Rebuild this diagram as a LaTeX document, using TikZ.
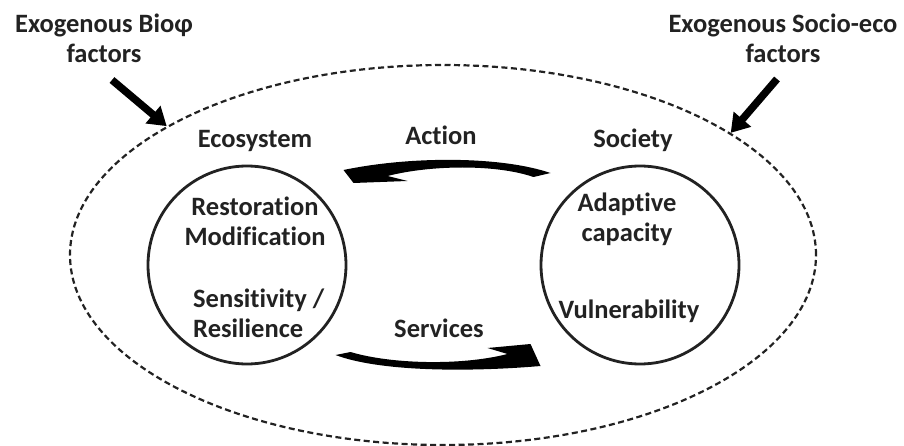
\documentclass[tikz,border=0pt]{standalone}
\usepackage{fontspec}
\setmainfont{Carlito}[Ligatures={NoCommon}]
\usepackage{tikz}
\usetikzlibrary{shapes.geometric, arrows.meta, calc}
\definecolor{ESInk}{RGB}{34, 34, 34}

\tikzset{
  lbl/.style={font=\bfseries\fontsize{26.5}{29.5}\selectfont, text=ESInk,
    align=center, inner sep=0pt},
  sphere/.style={circle, draw=ESInk, line width=2.8pt, minimum size=198pt,
    inner sep=0pt},
  region/.style={ellipse, draw=ESInk, line width=2.2pt,
    dash pattern=on 6pt off 3.5pt, minimum width=746pt, minimum height=380pt,
    inner sep=0pt},
  push/.style={draw=black, line width=7.5pt,
    -{Triangle[length=18pt, width=22pt]}}
}

\begin{document}
\begin{tikzpicture}[x=1pt, y=-1pt]
  \useasboundingbox (0,0) rectangle (904,446);

  % system boundary and the two spheres
  \node[region] (system) at (443,255) {};
  \node[sphere] (eco) at (247,265) {};
  \node[sphere] (soc) at (640,265) {};

  % titles over the spheres
  \node[lbl, anchor=base] (ecoTitle) at (255,148) {Ecosystem};
  \node[lbl, anchor=base] (socTitle) at (633,148) {Society};

  % what goes on inside each sphere
  \node[lbl, anchor=north] (ecoState) at (255,197) {Restoration\\Modification};
  \node[lbl, anchor=north west, align=left] (ecoResp) at (193,289)
    {Sensitivity /\\Resilience};
  \node[lbl, anchor=north] (socCap) at (627,193) {Adaptive\\capacity};
  \node[lbl, anchor=base] (socVuln) at (629,318) {Vulnerability};

  % flows between the spheres
  \node[lbl, anchor=base] (action) at (441,145) {Action};
  \node[lbl, anchor=base] (services) at (439,337) {Services};
  \begin{scope}[shift={($(eco)!0.5!(soc)$)}]
    \fill[black] (107,-92) .. controls (57,-109) and (-33,-109) .. (-100,-95)
      -- (-90,-82) -- (-36,-84) -- (-56,-89)
      .. controls (-13,-100) and (52,-101) .. (90,-88) -- cycle;
    \fill[black] (-108,90) .. controls (-63,107) and (27,107) .. (97,101)
      -- (87,79) -- (44,83) -- (64,89)
      .. controls (17,101) and (-53,99) .. (-93,87) -- cycle;
  \end{scope}

  % exogenous drivers
  \node[lbl, anchor=north] (bio) at (104,14) {Exogenous Bioφ\\factors};
  \node[lbl, anchor=north] (socio) at (783,14) {Exogenous Socio-eco\\factors};
  \coordinate (bioFrom) at (112,80);
  \coordinate (socioFrom) at (777,79);
  \draw[push] (bioFrom) -- (system.155);
  \draw[push] (socioFrom) -- (system.23);
\end{tikzpicture}
\end{document}
